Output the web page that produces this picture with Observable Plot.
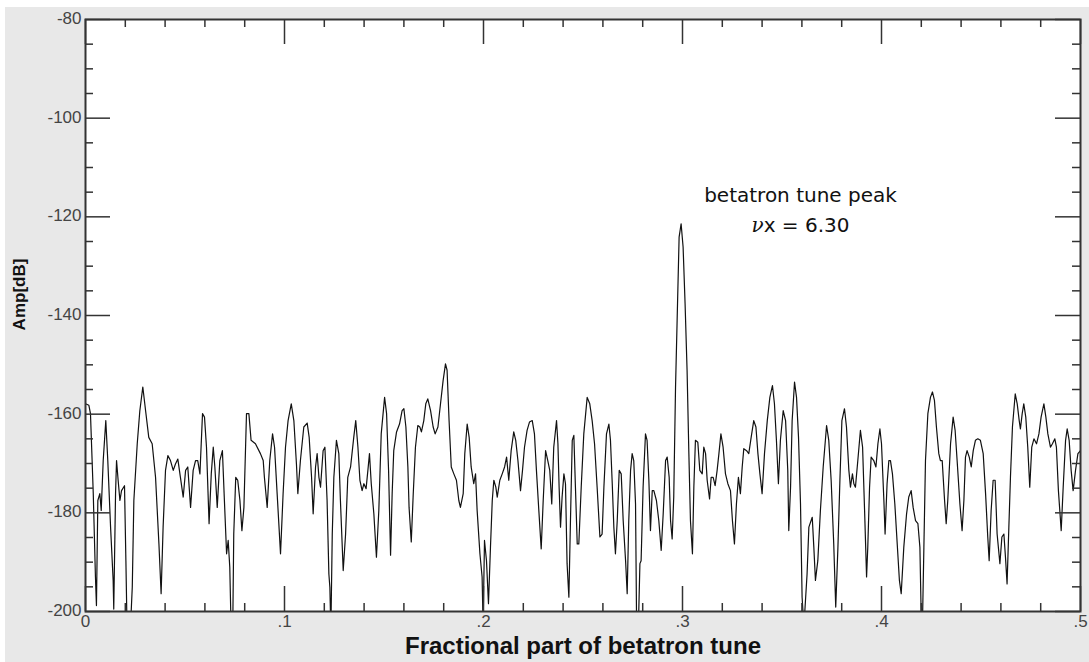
<!DOCTYPE html>
<html><head><meta charset="utf-8">
<script src="https://cdn.jsdelivr.net/npm/d3@7"></script>
<script src="https://cdn.jsdelivr.net/npm/@observablehq/plot@0.6"></script>
<style>
html,body{margin:0;padding:0;background:#fff;overflow:hidden;width:1089px;height:662px}
#bg{position:absolute;left:5px;top:7px;width:1084px;height:655px;background:#e8e8e8}
#chart{position:absolute;left:0;top:0}
</style></head><body><div id="bg"></div><div id="chart"></div>
<script>
// Fractional part of betatron tune (x) and amplitude in dB (y)
const tune = [0,.0017,.0025,.0039,.0050,.0055,.0062,.0072,.0079,.0089,.0102,.0112,.0126,.0139,.0142,.0151,.0156,.0164,.0173,.0181,
.0196,.0203,.0209,.0223,.0235,.0243,.0260,.0273,.0288,.0302,.0318,.0335,.0352,.0369,.0380,.0390,.0402,.0414,.0427,.0441,
.0452,.0464,.0477,.0491,.0503,.0514,.0528,.0541,.0553,.0564,.0575,.0588,.0598,.0608,.0621,.0632,.0642,.0650,.0662,.0675,
.0688,.0698,.0709,.0717,.0725,.0732,.0740,.0745,.0755,.0765,.0776,.0786,.0796,.0809,.0821,.0832,.0854,.0879,.0893,.0899,
.0913,.0926,.0940,.0950,.0963,.0980,.0993,.1005,.1018,.1034,.1047,.1060,.1067,.1080,.1097,.1114,.1124,.1136,.1144,.1156,
.1164,.1173,.1181,.1194,.1203,.1214,.1223,.1228,.1233,.1240,.1248,.1261,.1273,.1281,.1295,.1307,.1318,.1332,.1348,.1358,
.1369,.1379,.1390,.1399,.1410,.1419,.1427,.1436,.1449,.1462,.1474,.1486,.1503,.1513,.1523,.1533,.1541,.1549,.1563,.1578,
.1591,.1600,.1610,.1620,.1626,.1637,.1647,.1658,.1670,.1680,.1688,.1700,.1710,.1720,.1734,.1747,.1757,.1771,.1784,.1797,
.1809,.1817,.1827,.1838,.1851,.1864,.1876,.1884,.1898,.1906,.1918,.1928,.1938,.1951,.1960,.1968,.1982,.1993,.1998,.2005,
.2015,.2025,.2035,.2044,.2052,.2062,.2069,.2082,.2094,.2106,.2116,.2127,.2139,.2152,.2162,.2173,.2186,.2196,.2206,.2219,
.2231,.2245,.2256,.2266,.2278,.2290,.2300,.2312,.2323,.2333,.2343,.2353,.2367,.2374,.2380,.2387,.2395,.2404,.2412,.2420,
.2429,.2437,.2446,.2454,.2462,.2471,.2479,.2491,.2504,.2521,.2534,.2546,.2558,.2571,.2585,.2596,.2605,.2618,.2630,.2638,
.2647,.2655,.2663,.2672,.2682,.2692,.2702,.2714,.2722,.2730,.2739,.2747,.2755,.2764,.2769,.2779,.2786,.2792,.2802,.2814,
.2822,.2831,.2839,.2848,.2856,.2869,.2881,.2893,.2903,.2915,.2923,.2933,.2940,.2948,.2956,.2965,.2973,.2983,.2993,.3003,
.3013,.3023,.3032,.3040,.3050,.3057,.3065,.3077,.3087,.3099,.3107,.3116,.3124,.3136,.3144,.3154,.3164,.3174,.3183,.3193,
.3204,.3216,.3228,.3241,.3251,.3261,.3271,.3281,.3291,.3300,.3308,.3322,.3333,.3345,.3358,.3369,.3379,.3389,.3400,.3412,
.3426,.3439,.3452,.3462,.3472,.3482,.3492,.3506,.3518,.3529,.3534,.3543,.3551,.3563,.3573,.3583,.3593,.3601,.3610,.3616,
.3626,.3635,.3652,.3660,.3668,.3680,.3693,.3707,.3724,.3735,.3747,.3760,.3770,.3781,.3791,.3801,.3814,.3824,.3836,.3844,
.3854,.3861,.3869,.3881,.3894,.3905,.3915,.3925,.3931,.3940,.3948,.3961,.3972,.3982,.3992,.4000,.4012,.4018,.4028,.4037,
.4045,.4055,.4067,.4079,.4090,.4099,.4112,.4126,.4137,.4149,.4159,.4171,.4183,.4193,.4199,.4206,.4213,.4221,.4233,.4246,
.4256,.4266,.4276,.4288,.4296,.4305,.4317,.4325,.4333,.4347,.4360,.4370,.4380,.4394,.4405,.4414,.4422,.4430,.4441,.4451,
.4461,.4472,.4484,.4497,.4511,.4523,.4534,.4541,.4551,.4561,.4571,.4581,.4595,.4605,.4615,.4623,.4631,.4640,.4648,.4658,
.4672,.4682,.4692,.4698,.4707,.4715,.4725,.4735,.4745,.4755,.4766,.4779,.4791,.4802,.4816,.4826,.4836,.4849,.4859,.4871,
.4879,.4889,.4903,.4913,.4925,.4933,.4943,.4953,.4963,.4975,.4987,.5000];
const amp = [-157.9,-158.2,-159.9,-176.1,-193.0,-198.8,-177.5,-176.1,-179.5,-169.4,-161.3,-169.4,-182.9,-193.7,-199.5,-176.1,-169.4,-173.4,-177.5,-175.5,
-174.5,-189.7,-204,-206,-195.1,-177.5,-166.0,-159.3,-154.5,-159.3,-164.7,-166.0,-172.8,-186.3,-196.4,-182.9,-171.4,-168.4,-169.4,-171.4,
-170.1,-169.1,-172.8,-176.8,-171.4,-170.7,-178.9,-171.4,-169.4,-169.4,-172.1,-159.9,-160.6,-166.7,-182.2,-172.1,-166.7,-170.7,-178.9,-169.4,
-167.4,-177.5,-188.3,-185.6,-191.0,-204,-203,-184.3,-172.8,-173.4,-177.5,-183.6,-178.9,-159.9,-159.9,-165.3,-166.0,-168.0,-169.4,-172.8,
-178.9,-169.4,-164.0,-166.7,-176.1,-188.3,-176.1,-166.7,-161.3,-157.9,-161.3,-170.1,-176.1,-169.4,-162.6,-161.8,-164.7,-172.8,-180.2,-170.7,
-168.0,-172.8,-174.8,-167.4,-166.7,-177.5,-192.4,-195.1,-204,-184.3,-172.8,-165.3,-168.0,-177.5,-191.7,-184.3,-172.8,-170.7,-164.7,-161.3,
-166.7,-173.4,-175.5,-174.1,-175.1,-171.4,-168.0,-174.1,-180.2,-189.0,-179.5,-164.0,-156.6,-159.9,-171.4,-188.6,-176.1,-167.4,-163.6,-162.0,
-159.3,-158.9,-162.6,-170.7,-178.9,-185.9,-176.1,-166.7,-162.3,-162.6,-163.6,-161.3,-157.9,-156.9,-159.3,-162.6,-164.0,-162.6,-157.9,-153.2,
-149.8,-151.1,-161.3,-170.7,-172.1,-173.4,-177.5,-178.9,-176.1,-168.0,-162.0,-164.7,-170.7,-174.1,-172.1,-179.5,-188.3,-193.0,-203,-185.6,
-189.7,-198.4,-187.0,-177.5,-173.4,-174.8,-176.8,-173.4,-172.1,-170.7,-168.7,-173.4,-167.4,-163.6,-165.3,-169.4,-175.5,-171.4,-166.7,-163.3,
-161.6,-161.3,-164.0,-171.4,-179.5,-187.3,-177.5,-167.4,-169.4,-171.4,-178.2,-166.7,-161.3,-166.0,-174.8,-182.9,-176.8,-172.1,-174.1,-190.3,
-197.1,-181.6,-165.3,-164.3,-174.8,-186.3,-186.3,-174.8,-164.0,-156.6,-157.9,-161.3,-166.0,-174.8,-184.9,-184.3,-174.8,-164.0,-162.0,-165.3,
-174.1,-182.9,-188.3,-181.6,-171.4,-172.1,-181.6,-189.7,-196.4,-181.6,-171.4,-168.0,-169.4,-178.2,-201,-202,-190.3,-189.7,-174.8,-164.0,
-165.3,-173.4,-183.6,-175.5,-175.5,-177.5,-181.6,-187.6,-180.2,-169.4,-168.7,-172.8,-181.6,-185.3,-176.8,-154.5,-141.0,-124.1,-121.4,-126.1,
-137.6,-151.1,-168.0,-181.6,-188.3,-174.8,-165.3,-165.7,-171.4,-172.1,-166.7,-168.0,-173.4,-177.2,-172.8,-172.8,-174.5,-171.4,-168.0,-164.0,
-166.7,-172.1,-174.1,-175.5,-181.6,-186.3,-178.2,-172.8,-176.1,-170.7,-167.0,-167.4,-168.0,-164.7,-161.3,-162.6,-168.0,-172.1,-176.1,-168.0,
-161.3,-156.6,-154.2,-157.9,-165.3,-174.1,-165.3,-159.3,-161.3,-171.4,-183.6,-174.8,-161.3,-153.5,-156.6,-164.7,-178.2,-197.1,-203,-199.1,
-192.4,-182.9,-180.9,-187.0,-193.7,-189.7,-179.5,-170.7,-162.3,-165.3,-173.4,-186.3,-199.1,-187.0,-173.4,-161.3,-158.9,-162.6,-171.4,-174.8,
-172.1,-174.1,-174.8,-169.4,-163.3,-166.7,-179.5,-193.0,-187.0,-174.8,-168.7,-169.4,-170.7,-166.0,-163.0,-166.0,-177.5,-184.3,-174.1,-169.4,
-169.4,-172.1,-178.2,-186.3,-193.7,-196.4,-187.0,-180.2,-176.8,-175.5,-178.9,-181.6,-182.2,-187.0,-199.8,-202,-187.0,-169.4,-159.9,-156.6,
-155.5,-157.2,-162.6,-168.0,-169.4,-169.4,-177.5,-182.2,-177.5,-166.0,-160.6,-163.3,-169.4,-178.2,-183.6,-177.5,-168.7,-167.4,-168.7,-170.7,
-167.4,-165.3,-165.0,-165.3,-168.0,-176.1,-184.9,-189.7,-179.5,-173.4,-173.4,-184.3,-190.3,-184.9,-184.3,-189.0,-194.4,-182.9,-172.8,-162.6,
-155.9,-157.9,-161.3,-163.0,-159.9,-157.9,-160.6,-166.7,-174.8,-166.7,-165.0,-166.0,-164.0,-160.6,-157.9,-160.6,-164.0,-166.7,-166.0,-165.0,
-166.7,-175.5,-183.6,-174.8,-165.3,-163.0,-165.3,-171.4,-175.5,-171.4,-168.0,-167.4];

const yMajor = [-80,-100,-120,-140,-160,-180,-200];
const yMinor = [-85,-90,-95,-105,-110,-115,-125,-130,-135,-145,-150,-155,-165,-170,-175,-185,-190,-195];
const xMajor = [0,.1,.2,.3,.4,.5];
const xLabels = ["0",".1",".2",".3",".4",".5"];
const xMinor = [.02,.04,.06,.08,.12,.14,.16,.18,.22,.24,.26,.28,.32,.34,.36,.38,.42,.44,.46,.48];
const notes = [
  {tune: .3593, amp: -115.7, text: "betatron tune peak"},
  {tune: .3593, amp: -121.8, text: "νx = 6.30"}
];
const xTitle = "Fractional part of betatron tune";
const yTitle = "Amp[dB]";

const points = tune.map((t, i) => ({tune: t, amp: amp[i]}));

const W = 1089, H = 662, mL = 85, mR = 9, mT = 19, mB = 51;
const pw = W - mL - mR, ph = H - mT - mB;
const major = 25, minor = 8;
const axisCol = "#333";
const tickFont = "Liberation Sans, Arial, sans-serif";

const chart = Plot.plot({
  width: W, height: H,
  marginLeft: mL, marginRight: mR, marginTop: mT, marginBottom: mB,
  style: {background: "transparent", fontFamily: tickFont},
  x: {domain: [0, .5], axis: null},
  y: {domain: [-200, -80], axis: null},
  marks: [
    Plot.frame({fill: "white", stroke: null}),
    Plot.line(points, {x: "tune", y: "amp", stroke: "#111", strokeWidth: 1.2, clip: true}),
    // y ticks left & right
    Plot.tickY(yMajor, {y: d => d, insetRight: pw - major, stroke: axisCol, strokeWidth: 1.5}),
    Plot.tickY(yMajor, {y: d => d, insetLeft: pw - major, stroke: axisCol, strokeWidth: 1.5}),
    Plot.tickY(yMinor, {y: d => d, insetRight: pw - minor, stroke: axisCol, strokeWidth: 1.5}),
    Plot.tickY(yMinor, {y: d => d, insetLeft: pw - minor, stroke: axisCol, strokeWidth: 1.5}),
    // x ticks bottom & top
    Plot.tickX(xMajor, {x: d => d, insetTop: ph - major, stroke: axisCol, strokeWidth: 1.5}),
    Plot.tickX(xMajor, {x: d => d, insetBottom: ph - major, stroke: axisCol, strokeWidth: 1.5}),
    Plot.tickX(xMinor, {x: d => d, insetTop: ph - minor, stroke: axisCol, strokeWidth: 1.5}),
    Plot.tickX(xMinor, {x: d => d, insetBottom: ph - minor, stroke: axisCol, strokeWidth: 1.5}),
    Plot.frame({stroke: axisCol, strokeWidth: 2}),
    // tick labels
    Plot.text(yMajor, {y: d => d, frameAnchor: "left", textAnchor: "end", dx: -4, dy: -1,
      text: d => String(d), fontSize: 17, fill: "#444"}),
    Plot.text(xMajor, {x: d => d, frameAnchor: "bottom", lineAnchor: "top", dy: 3,
      text: (d, i) => xLabels[i], fontSize: 17, fill: "#444"}),
    // axis titles
    Plot.text([xTitle], {frameAnchor: "bottom", text: d => d, textAnchor: "middle", dy: 42, fontSize: 24,
      fontWeight: "bold", fill: "#111"}),
    Plot.text([yTitle], {frameAnchor: "left", text: d => d, textAnchor: "middle", rotate: -90, dx: -66, dy: -21,
      fontSize: 17, fontWeight: "bold", fill: "#111"}),
    // annotation
    Plot.text(notes, {x: "tune", y: "amp", text: "text", fontSize: 20,
      fontFamily: "DejaVu Sans", fill: "#111"})
  ]
});

const ns = "http://www.w3.org/2000/svg";
chart.querySelectorAll("text").forEach(t => {
  if (t.textContent.startsWith("ν")) {
    const rest = t.textContent.slice(1);
    t.textContent = "";
    const nu = document.createElementNS(ns, "tspan");
    nu.setAttribute("font-style", "italic");
    nu.setAttribute("font-family", "DejaVu Serif");
    nu.textContent = "ν";
    t.appendChild(nu);
    t.appendChild(document.createTextNode(rest));
  }
});
document.getElementById("chart").appendChild(chart);
</script></body></html>
